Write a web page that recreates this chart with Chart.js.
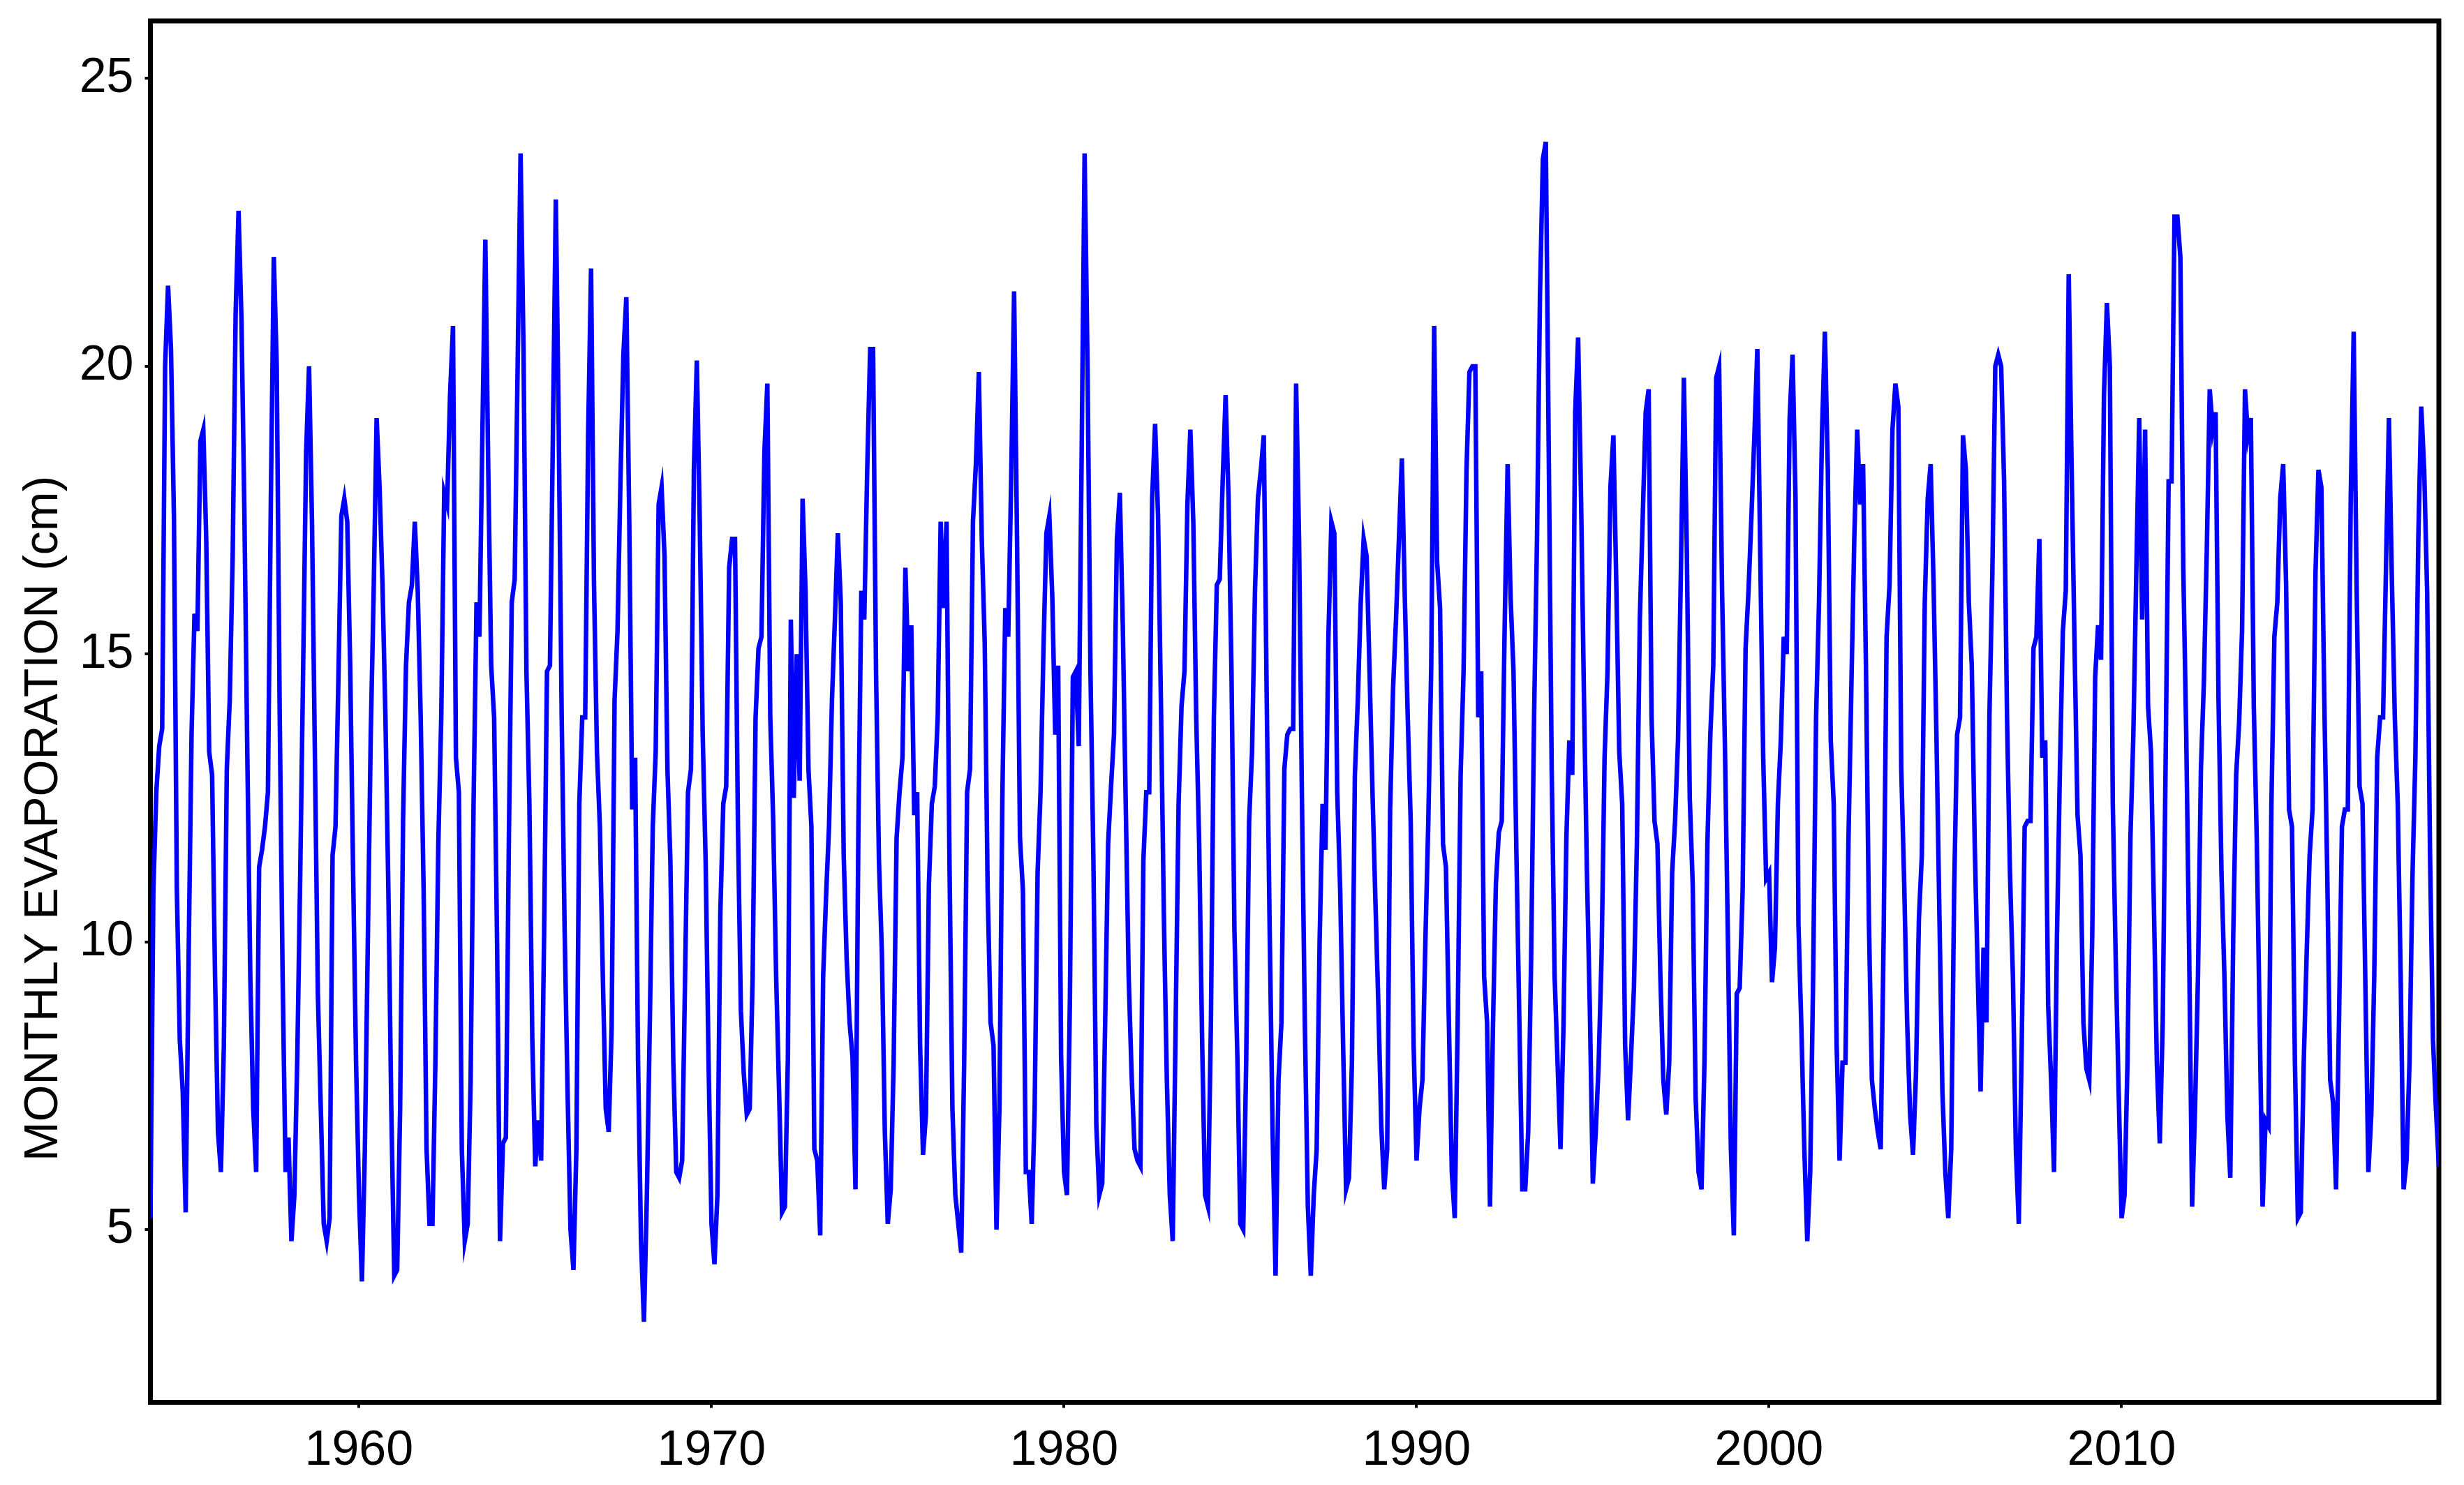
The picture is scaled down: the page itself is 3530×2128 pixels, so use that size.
<!DOCTYPE html>
<html>
<head>
<meta charset="utf-8">
<script src="https://cdn.jsdelivr.net/npm/chart.js@4.4.0/dist/chart.umd.min.js"></script>
<style>
  html, body { margin: 0; padding: 0; background: #fff; }
  canvas { display: block; }
</style>
</head>
<body>
<canvas id="evapChart" width="3530" height="2128"></canvas>
<script>
// monthly evaporation (cm), Jan 1954 .. Dec 2018, one row per year
const firstYear = 1954

const evap1954to1959 = [
  5.2, 10.9, 12.6, 13.4, 13.7, 20.0, 21.4, 20.3, 17.4, 10.9, 8.3, 7.4,
  5.3, 9.7, 13.6, 15.7, 15.4, 18.7, 18.9, 17.0, 13.3, 12.9, 9.4, 6.7,
  6.0, 8.2, 13.0, 14.2, 16.7, 20.9, 22.7, 20.8, 17.4, 13.2, 9.4, 7.1,
  6.0, 11.3, 11.6, 12.0, 12.6, 17.7, 21.9, 20.0, 14.0, 9.4, 6.0, 6.6,
  4.8, 5.6, 8.0, 11.2, 14.8, 18.5, 20.0, 17.3, 13.2, 9.1, 7.1, 5.1,
  4.8, 5.2, 11.5, 12.0, 14.6, 17.4, 17.7, 17.3, 14.8, 11.2, 7.9, 5.6
]

const evap1960s = [
  4.1, 6.4, 10.0, 13.6, 16.1, 19.1, 17.9, 16.2, 13.9, 10.9, 7.1, 4.2,
  4.3, 7.1, 12.1, 14.8, 15.9, 16.2, 17.3, 16.1, 13.9, 10.9, 6.4, 5.1,
  5.1, 7.9, 11.7, 13.9, 17.8, 17.6, 19.5, 20.7, 13.2, 12.6, 6.4, 4.8,
  5.1, 7.6, 12.4, 15.9, 15.3, 18.8, 22.2, 18.2, 14.8, 13.9, 10.0, 4.8,
  6.5, 6.6, 11.7, 15.9, 16.3, 20.0, 23.7, 20.3, 14.7, 12.4, 8.3, 6.1,
  6.9, 6.2, 10.1, 14.7, 14.8, 18.8, 22.9, 18.9, 13.9, 10.2, 7.4, 5.0,
  4.3, 6.4, 12.4, 13.9, 13.9, 18.8, 21.7, 16.2, 13.3, 12.0, 9.4, 7.1,
  6.7, 8.5, 14.2, 15.4, 18.0, 20.2, 21.2, 17.3, 12.3, 13.2, 7.9, 4.8,
  3.4, 5.6, 8.6, 12.0, 13.3, 17.6, 17.9, 16.7, 13.0, 11.4, 7.9, 6.0,
  5.9, 6.2, 9.4, 12.6, 13.0, 18.2, 20.1, 17.3, 13.6, 11.4, 7.9, 5.1
]

const evap1970s = [
  4.4, 5.6, 10.5, 12.4, 12.7, 16.5, 17.0, 17.0, 12.0, 8.8, 7.7, 7.0,
  7.1, 9.4, 13.9, 15.1, 15.3, 18.5, 19.7, 13.9, 12.1, 9.4, 7.4, 5.3,
  5.4, 8.0, 15.6, 12.5, 15.0, 12.8, 17.7, 16.1, 13.0, 12.0, 6.4, 6.2,
  4.9, 9.4, 10.8, 12.0, 14.2, 15.6, 17.1, 15.9, 11.5, 9.7, 8.6, 8.0,
  5.7, 12.0, 16.1, 15.6, 18.2, 20.3, 20.3, 14.7, 11.4, 9.8, 6.7, 5.1,
  5.7, 7.9, 11.8, 12.6, 13.2, 16.5, 14.7, 15.5, 12.2, 12.6, 8.2, 6.3,
  7.0, 11.0, 12.4, 12.7, 13.9, 17.3, 15.8, 17.3, 11.4, 7.1, 5.6, 5.1,
  4.6, 7.9, 12.6, 13.0, 17.3, 18.3, 19.9, 17.0, 15.2, 10.9, 8.6, 8.2,
  5.0, 7.1, 12.5, 15.8, 15.3, 18.0, 21.3, 17.0, 11.8, 10.9, 6.0, 6.0,
  5.1, 7.1, 11.2, 12.6, 15.1, 17.1, 17.4, 16.0, 13.6, 14.8, 8.0, 6.0
]

const evap1980s = [
  5.6, 9.0, 14.6, 14.7, 13.4, 18.5, 23.7, 20.0, 14.7, 11.4, 6.8, 5.6,
  5.8, 8.6, 11.7, 12.7, 13.6, 17.0, 17.8, 15.5, 12.4, 9.4, 7.7, 6.4,
  6.2, 6.1, 11.4, 12.6, 12.6, 17.7, 19.0, 17.4, 14.1, 10.4, 7.6, 5.6,
  4.8, 8.6, 12.4, 14.1, 14.7, 17.6, 18.9, 17.3, 13.9, 11.7, 8.3, 5.6,
  5.4, 8.6, 13.9, 16.2, 16.3, 18.0, 19.5, 17.7, 14.7, 10.2, 8.0, 5.1,
  5.0, 7.9, 12.1, 13.3, 16.1, 17.7, 18.2, 18.8, 14.2, 10.2, 6.7, 4.2,
  7.6, 8.6, 13.0, 13.6, 13.7, 13.7, 19.7, 17.0, 12.4, 8.5, 5.4, 4.2,
  5.6, 6.4, 10.0, 12.4, 11.6, 15.3, 17.3, 17.1, 12.6, 10.9, 8.2, 5.7,
  5.9, 7.9, 12.9, 14.2, 15.9, 17.0, 16.7, 14.7, 12.6, 10.7, 8.9, 6.8,
  5.7, 6.4, 12.3, 14.4, 15.6, 17.0, 18.4, 16.0, 13.9, 12.1, 8.2, 6.2
]

const evap1990s = [
  7.1, 7.6, 10.0, 12.1, 14.8, 20.7, 16.6, 15.8, 11.7, 11.3, 8.6, 6.0,
  5.2, 8.6, 12.9, 14.7, 18.2, 19.9, 20.0, 20.0, 13.9, 14.7, 9.4, 8.6,
  5.4, 8.5, 11.0, 11.9, 12.1, 15.5, 18.3, 16.0, 14.7, 11.5, 8.6, 5.7,
  5.7, 6.7, 9.7, 13.9, 17.0, 21.2, 23.6, 23.9, 18.5, 13.0, 9.4, 7.9,
  6.4, 8.5, 11.8, 13.5, 12.9, 19.2, 20.5, 17.7, 14.2, 11.2, 8.8, 5.8,
  6.7, 7.9, 9.8, 13.2, 14.7, 17.9, 18.8, 16.2, 13.3, 12.4, 8.2, 6.9,
  8.0, 9.2, 11.7, 15.6, 17.4, 19.2, 19.6, 13.9, 12.1, 11.7, 9.4, 7.6,
  7.0, 7.9, 11.2, 12.1, 13.5, 16.5, 19.8, 16.8, 12.5, 11.0, 7.3, 6.0,
  5.7, 7.9, 11.7, 13.6, 14.8, 19.8, 20.0, 16.1, 13.3, 10.0, 6.4, 4.9,
  9.1, 9.2, 10.9, 15.1, 16.1, 17.4, 18.8, 20.3, 16.7, 13.2, 11.1, 11.2
]

const evap2000s = [
  9.3, 9.9, 12.4, 13.5, 15.3, 15.0, 19.1, 20.2, 17.7, 10.3, 8.5, 6.4,
  4.8, 6.0, 9.4, 13.9, 15.9, 18.8, 20.6, 18.2, 13.5, 12.4, 8.2, 6.2,
  7.9, 7.9, 11.7, 14.4, 17.0, 18.9, 17.6, 18.3, 14.7, 10.3, 7.6, 7.1,
  6.7, 6.4, 10.1, 15.3, 16.2, 18.9, 19.7, 19.3, 13.0, 11.0, 8.6, 7.0,
  6.3, 7.7, 10.4, 11.5, 15.9, 17.7, 18.3, 16.2, 13.5, 10.4, 7.4, 6.0,
  5.2, 6.4, 10.9, 13.6, 13.9, 18.8, 18.2, 15.9, 14.8, 11.7, 9.5, 7.4,
  9.9, 8.6, 13.9, 16.4, 20.0, 20.2, 20.0, 18.0, 13.9, 11.2, 9.4, 6.4,
  5.1, 8.2, 12.0, 12.1, 12.1, 15.1, 15.3, 17.0, 13.2, 13.5, 8.9, 7.6,
  6.0, 10.1, 13.0, 15.4, 16.1, 21.6, 18.2, 15.1, 12.2, 11.5, 8.6, 7.8,
  7.6, 10.1, 14.6, 15.5, 14.9, 19.5, 21.1, 20.0, 12.4, 9.7, 7.4, 5.2
]

const evap2010to2018 = [
  5.6, 7.9, 11.8, 13.6, 16.4, 19.1, 15.6, 18.9, 14.1, 13.3, 10.6, 7.9,
  6.5, 8.6, 13.2, 18.0, 18.0, 22.6, 22.6, 21.9, 16.5, 13.6, 9.8, 5.4,
  7.1, 9.4, 13.0, 14.5, 16.8, 19.6, 18.9, 19.2, 14.2, 11.2, 9.4, 7.0,
  5.9, 10.1, 12.9, 13.8, 15.4, 19.6, 18.8, 19.1, 14.1, 11.8, 8.6, 5.4,
  6.9, 6.8, 12.4, 15.3, 15.9, 17.7, 18.3, 16.2, 12.3, 12.0, 7.9, 5.2,
  5.3, 7.9, 9.8, 11.5, 12.3, 16.4, 18.2, 17.9, 14.2, 11.2, 7.6, 7.2,
  5.7, 8.6, 12.0, 12.3, 12.3, 17.7, 20.6, 16.2, 12.7, 12.4, 9.2, 6.0,
  7.0, 9.4, 13.2, 13.9, 13.9, 16.5, 19.1, 16.3, 13.9, 12.4, 9.4, 5.7,
  6.2, 7.9, 11.1, 13.2, 17.0, 19.3, 18.2, 16.1, 11.5, 8.3, 7.1, 6.1
]

const yearTicks = [1960, 1970, 1980, 1990, 2000, 2010]
const valueTicks = [5, 10, 15, 20, 25]
const yTitle = 'MONTHLY EVAPORATION (cm)'

const monthly = [].concat(evap1954to1959, evap1960s, evap1970s, evap1980s,
  evap1990s, evap2000s, evap2010to2018)
const points = monthly.map((v, i) => ({ x: firstYear + (i + 1) / 12, y: v }))

const fontFamily = "'Liberation Sans', Arial, Helvetica, sans-serif"

// black box round the plot area
const framePlugin = {
  id: 'frame',
  beforeDatasetsDraw (chart) {
    const { ctx, chartArea: a } = chart
    ctx.save()
    ctx.strokeStyle = '#000'
    ctx.lineWidth = 7
    ctx.strokeRect(a.left, a.top, a.right - a.left, a.bottom - a.top)
    ctx.restore()
  }
}

// y title sits a bit below the middle of the axis in the original
const yTitlePlugin = {
  id: 'yTitle',
  afterDraw (chart) {
    const ctx = chart.ctx
    ctx.save()
    ctx.translate(63, 1173)
    ctx.rotate(-Math.PI / 2)
    ctx.font = `68px ${fontFamily}`
    ctx.fillStyle = '#000'
    ctx.textAlign = 'center'
    ctx.textBaseline = 'middle'
    ctx.fillText(yTitle, 0, 0)
    ctx.restore()
  }
}

// fixed box sizes, no extra room for half labels
function fixX (scale) {
  scale.height = 118.5
  scale.paddingLeft = 0
  scale.paddingRight = 0
}
function fixY (scale) {
  scale.width = 215.5
  scale.paddingTop = 0
  scale.paddingBottom = 0
}

const ctx = document.querySelector('#evapChart')
const myChart = new Chart(ctx, {
  type: 'line',
  data: {
    datasets: [{
      data: points,
      borderColor: '#0000ff',
      borderWidth: 6.5,
      pointRadius: 0,
      tension: 0,
      fill: false
    }]
  },
  options: {
    responsive: false,
    animation: false,
    devicePixelRatio: 1,
    layout: { padding: { top: 30, right: 36, left: 0, bottom: 0 } },
    plugins: {
      legend: { display: false },
      tooltip: { enabled: false }
    },
    scales: {
      x: {
        type: 'linear',
        min: firstYear + 1 / 12,
        max: 2019,
        afterFit: fixX,
        afterBuildTicks: scale => { scale.ticks = yearTicks.map(v => ({ value: v })) },
        grid: { drawOnChartArea: false, drawTicks: true, tickLength: 8, color: '#000', lineWidth: 4 },
        border: { display: false },
        ticks: {
          color: '#000',
          font: { family: fontFamily, size: 70 },
          padding: 20,
          maxRotation: 0,
          autoSkip: false,
          callback: v => String(v)
        }
      },
      y: {
        min: 2,
        max: 26,
        afterFit: fixY,
        afterBuildTicks: scale => { scale.ticks = valueTicks.map(v => ({ value: v })) },
        grid: { drawOnChartArea: false, drawTicks: true, tickLength: 8, color: '#000', lineWidth: 4 },
        border: { display: false },
        ticks: {
          color: '#000',
          font: { family: fontFamily, size: 70 },
          padding: 16,
          callback: v => String(v)
        }
      }
    }
  },
  plugins: [framePlugin, yTitlePlugin]
})
</script>
</body>
</html>
